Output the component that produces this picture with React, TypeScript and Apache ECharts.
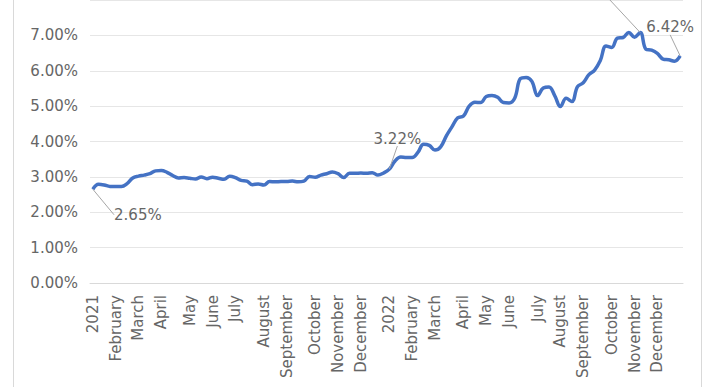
import React, { useEffect, useRef } from "react";
import * as echarts from "echarts";

// Weekly observation dates
const weeks2021 = [
  "2021-01-07", "2021-01-14", "2021-01-21", "2021-01-28",
  "2021-02-04", "2021-02-11", "2021-02-18", "2021-02-25",
  "2021-03-04", "2021-03-11", "2021-03-18", "2021-03-25",
  "2021-04-01", "2021-04-08", "2021-04-15", "2021-04-22", "2021-04-29",
  "2021-05-06", "2021-05-13", "2021-05-20", "2021-05-27",
  "2021-06-03", "2021-06-10", "2021-06-17", "2021-06-24",
  "2021-07-01", "2021-07-08", "2021-07-15", "2021-07-22", "2021-07-29",
  "2021-08-05", "2021-08-12", "2021-08-19", "2021-08-26",
  "2021-09-02", "2021-09-09", "2021-09-16", "2021-09-23", "2021-09-30",
  "2021-10-07", "2021-10-14", "2021-10-21", "2021-10-28",
  "2021-11-04", "2021-11-10", "2021-11-18", "2021-11-24",
  "2021-12-02", "2021-12-09", "2021-12-16", "2021-12-23", "2021-12-30",
];
const weeks2022 = [
  "2022-01-06", "2022-01-13", "2022-01-20", "2022-01-27",
  "2022-02-03", "2022-02-10", "2022-02-17", "2022-02-24",
  "2022-03-03", "2022-03-10", "2022-03-17", "2022-03-24", "2022-03-31",
  "2022-04-07", "2022-04-14", "2022-04-21", "2022-04-28",
  "2022-05-05", "2022-05-12", "2022-05-19", "2022-05-26",
  "2022-06-02", "2022-06-09", "2022-06-16", "2022-06-23", "2022-06-30",
  "2022-07-07", "2022-07-14", "2022-07-21", "2022-07-28",
  "2022-08-04", "2022-08-11", "2022-08-18", "2022-08-25",
  "2022-09-01", "2022-09-08", "2022-09-15", "2022-09-22", "2022-09-29",
  "2022-10-06", "2022-10-13", "2022-10-20", "2022-10-27",
  "2022-11-03", "2022-11-10", "2022-11-17", "2022-11-23",
  "2022-12-01", "2022-12-08", "2022-12-15", "2022-12-22", "2022-12-29",
];

// Rates (%)
const rates2021 = [
  2.65, 2.79, 2.77, 2.73,
  2.73, 2.73, 2.81, 2.97,
  3.02, 3.05, 3.09, 3.17,
  3.18, 3.13, 3.04, 2.97, 2.98,
  2.96, 2.94, 3.0, 2.95,
  2.99, 2.96, 2.93, 3.02,
  2.98, 2.9, 2.88, 2.78, 2.8,
  2.77, 2.87, 2.86, 2.87,
  2.87, 2.88, 2.86, 2.88, 3.01,
  2.99, 3.05, 3.09, 3.14,
  3.09, 2.98, 3.1, 3.1,
  3.11, 3.1, 3.12, 3.05, 3.11,
];
const rates2022 = [
  3.22, 3.45, 3.56, 3.55,
  3.55, 3.69, 3.92, 3.89,
  3.76, 3.85, 4.16, 4.42, 4.67,
  4.72, 5.0, 5.11, 5.1,
  5.27, 5.3, 5.25, 5.1,
  5.09, 5.23, 5.78, 5.81, 5.7,
  5.3, 5.51, 5.54, 5.3,
  4.99, 5.22, 5.13, 5.55,
  5.66, 5.89, 6.02, 6.29, 6.7,
  6.66, 6.92, 6.94, 7.08,
  6.95, 7.08, 6.61, 6.58,
  6.49, 6.33, 6.31, 6.27, 6.42,
];

const monthNames = [
  "January", "February", "March", "April", "May", "June",
  "July", "August", "September", "October", "November", "December",
];

// Indices of points that carry a data label
const labeledPoints = [0, 52, 96, 103];

const categories = [...weeks2021, ...weeks2022];
const rates = [...rates2021, ...rates2022];

const FONT = "DejaVu Sans";
const TEXT = "#666666";

const labelOffsets: Record<number, { dx: number; dy: number }> = {
  0: { dx: 45, dy: 38 },
  52: { dx: 8, dy: -18 },
  96: { dx: -82, dy: -50 },
  103: { dx: -10, dy: -16 },
};

export default function App() {
  const ref = useRef<HTMLDivElement>(null);
  useEffect(() => {
    if (!ref.current) return;
    const chart = echarts.init(ref.current, undefined, { renderer: "svg" });
    const monthOf = (s: string) => parseInt(s.slice(5, 7), 10) - 1;
    const data = rates.map((v, i) =>
      labeledPoints.includes(i)
        ? { value: v, symbol: "circle", symbolSize: 0.01, label: { show: true } }
        : { value: v, symbol: "none" }
    );
    chart.setOption({
      animation: false,
      backgroundColor: "#ffffff",
      graphic: [
        {
          type: "rect",
          z: -10,
          shape: { x: 13.5, y: -10, width: 688, height: 420 },
          style: { fill: "none", stroke: "#d9d9d9", lineWidth: 1 },
        },
      ],
      grid: { left: 90, right: 27, top: -3, bottom: 104, containLabel: false },
      xAxis: {
        type: "category",
        data: categories,
        boundaryGap: true,
        axisLine: { show: true, lineStyle: { color: "#d9d9d9", width: 1 } },
        axisTick: { show: false },
        axisLabel: {
          rotate: 90,
          fontFamily: FONT,
          fontSize: 15,
          color: TEXT,
          margin: 12,
          interval: (index: number, value: string) =>
            index === 0 || monthOf(value) !== monthOf(categories[index - 1]),
          formatter: (value: string) =>
            monthOf(value) === 0 ? value.slice(0, 4) : monthNames[monthOf(value)],
        },
      },
      yAxis: {
        type: "value",
        min: 0,
        max: 8,
        interval: 1,
        axisLine: { show: false },
        axisTick: { show: false },
        splitLine: { lineStyle: { color: "#e6e6e6", width: 1 } },
        axisLabel: {
          fontFamily: FONT,
          fontSize: 15,
          color: TEXT,
          margin: 12,
          showMaxLabel: false,
          formatter: (v: number) => v.toFixed(2) + "%",
        },
      },
      series: [
        {
          type: "line",
          data,
          smooth: 0.4,
          symbol: "circle",
          symbolSize: 0.01,
          showSymbol: true,
          showAllSymbol: true,
          itemStyle: { color: "#4472C4" },
          lineStyle: { color: "#4472C4", width: 3.5 },
          label: {
            show: false,
            position: "top",
            fontFamily: FONT,
            fontSize: 15,
            color: TEXT,
            formatter: (p: any) => Number(p.value).toFixed(2) + "%",
          },
          labelLine: { show: true, lineStyle: { color: "#a6a6a6", width: 1 } },
          labelLayout: (params: any) => {
            const o = labelOffsets[params.dataIndex];
            return o ? { dx: o.dx, dy: o.dy } : {};
          },
        },
      ],
    });
    return () => chart.dispose();
  }, []);
  return (
    <div
      ref={ref}
      style={{ position: "fixed", left: 0, top: 0, width: 710, height: 387 }}
    />
  );
}
